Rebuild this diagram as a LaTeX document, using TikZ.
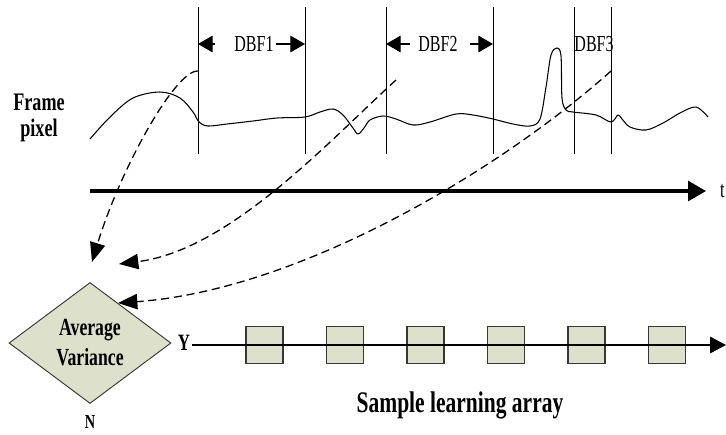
\documentclass[tikz,border=0pt]{standalone}
\usepackage{fontspec}
\setmainfont{Liberation Serif}[FakeStretch=0.72]
\newfontfamily\dbffont{Liberation Serif}[FakeStretch=0.7]
\usetikzlibrary{arrows.meta,shapes.geometric}
\definecolor{boxfill}{RGB}{221,225,203}
\definecolor{boxedge}{RGB}{55,55,55}
\begin{document}
\begin{tikzpicture}[x=0.03cm,y=-0.03cm,
  vline/.style={line width=0.8pt},
  wave/.style={line width=0.9pt},
  dbfarrow/.style={line width=1pt,-{Triangle[length=0.44cm,width=0.5cm]}},
  dasharrow/.style={line width=1.1pt,dash pattern=on 7pt off 4pt,-{Triangle[length=0.58cm,width=0.46cm]}},
  timeaxis/.style={line width=2.6pt,-{Triangle[length=0.54cm,width=0.6cm]}},
  yaxis/.style={line width=1pt,-{Triangle[length=0.48cm,width=0.5cm]}},
  cell/.style={draw=boxedge,fill=boxfill,line width=0.9pt,minimum width=1.11cm,minimum height=1.11cm,inner sep=0pt},
  decision/.style={diamond,draw=boxedge,fill=boxfill,line width=0.8pt,aspect=1.34,minimum width=4.86cm,minimum height=3.63cm,inner sep=0pt,align=center,font=\fontsize{21}{25.6}\selectfont\bfseries},
  boldlbl/.style={inner sep=0pt,anchor=base,font=\fontsize{#1}{#1}\selectfont\bfseries},
  dbflbl/.style={inner sep=0pt,font=\fontsize{19.5}{19.5}\selectfont\dbffont},
]
\useasboundingbox (0,0) rectangle (726,434);

% vertical boundary lines
\coordinate (v1t) at (198,7);   \coordinate (v1b) at (198,154);
\coordinate (v2t) at (305,7);   \coordinate (v2b) at (305,154);
\coordinate (v3t) at (386,7);   \coordinate (v3b) at (386,154);
\coordinate (v4t) at (493,7);   \coordinate (v4b) at (493,154);
\coordinate (v5t) at (574,7);   \coordinate (v5b) at (574,154);
\coordinate (v6t) at (611,7);   \coordinate (v6b) at (611,154);
\foreach \v in {1,...,6} \draw[vline] (v\v t) -- (v\v b);

% DBF labels and arrows
\node[dbflbl] (dbf1) at (254,44) {DBF1};
\node[dbflbl] (dbf2) at (438,44) {DBF2};
\node[dbflbl] (dbf3) at (594,44) {DBF3};
\coordinate (a1l) at (215,44); \coordinate (a1r) at (276,44);
\coordinate (a2l) at (410,44); \coordinate (a2r) at (470,44);
\draw[dbfarrow] (a1l) -- (v1t |- a1l);
\draw[dbfarrow] (a1r) -- (v2t |- a1r);
\draw[dbfarrow] (a2l) -- (v3t |- a2l);
\draw[dbfarrow] (a2r) -- (v4t |- a2r);

% Frame pixel label
\node[boldlbl=21.5] (frame) at (39,110) {Frame};
\node[boldlbl=21.5] (pixel) at (39,136) {pixel};

% waveform
\draw[wave] plot[smooth,tension=0.55] coordinates {
  (90,139) (110,117) (133,98) (160,92) (180,98) (193,112) (199,122)
  (208,126) (227,124) (253,121) (277,118) (305,117) (320,112) (333,109)
  (343,115) (353,128) (358,134) (364,128) (370,120) (383,116) (396,119)
  (413,125) (430,122) (456,114) (473,115) (493,119) (513,124) (530,126)
  (540,119) (546,87) (551,55) (557,48) (561,56) (562,98) (566,110)
  (573,112) (596,115) (611,122) (618,115) (622,119) (630,127) (646,130)
  (663,123) (680,113) (696,107) (708,117)};

% time axis
\coordinate (ta) at (90,191);
\coordinate (tb) at (706,191);
\draw[timeaxis] (ta) -- (tb);
\node[inner sep=0pt,anchor=west,font=\fontsize{20}{20}\selectfont\dbffont] (tlab) at (720,191) {t};

% decision diamond
\node[decision] (var) at (90,343) {Average\\Variance};
\node[boldlbl=17] (nlab) at (90,428) {N};
\node[boldlbl=20] (ylab) at (184,350) {Y};

% dashed feedback arrows
\coordinate (src1) at (198,71);
\coordinate (src2) at (396,80);
\coordinate (src3) at (611,71);
\coordinate (tip1) at (92,262);
\coordinate (tip2) at (119,264);
\coordinate (tip3) at (118,303);
\draw[dasharrow] (src1) .. controls (175,70) and (120,170) .. (tip1);
\draw[dasharrow] (src2) .. controls (330,140) and (230,250) .. (tip2);
\draw[dasharrow] (src3) .. controls (500,170) and (300,290) .. (tip3);

% sample learning array
\foreach \i in {0,...,5}
  \node[cell] (c\i) at ({264.5+80.5*\i},345) {};
\coordinate (yend) at (726,345);
\draw[yaxis] ([xshift=1.5pt]ylab.east |- yend) -- (yend);
\node[boldlbl=25.5] (arr) at (460,412) {Sample learning array};
\end{tikzpicture}
\end{document}
